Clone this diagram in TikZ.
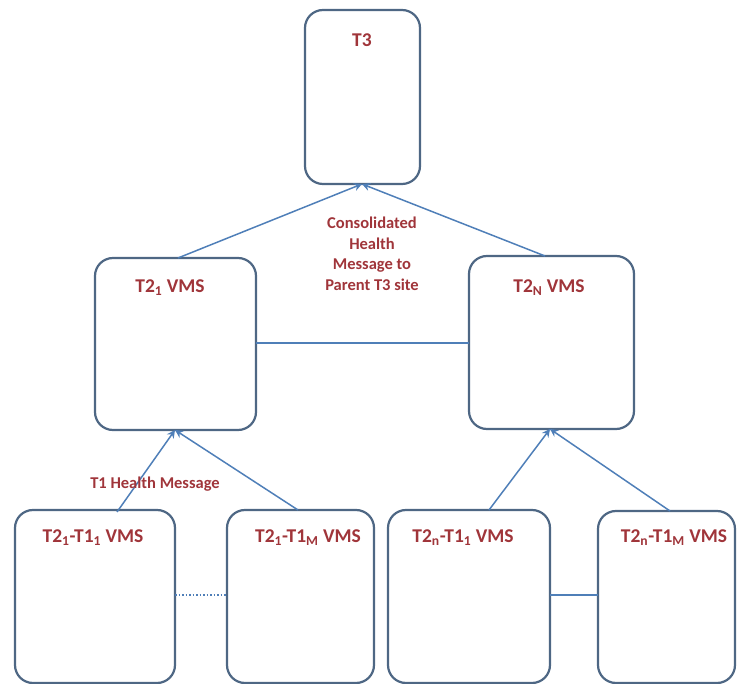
\documentclass[tikz,border=0pt]{standalone}
\usepackage{fontspec}
\setmainfont{Carlito}
\usetikzlibrary{arrows.meta}
\definecolor{boxline}{HTML}{4E6784}
\definecolor{conn}{HTML}{4F7FB8}
\definecolor{txt}{HTML}{A0353A}
\tikzset{
  vbox/.style={draw=boxline, line width=2.2pt, rounded corners=18pt, fill=white},
  lbl/.style={text=txt, font=\bfseries\fontsize{19.5}{22}\selectfont, inner sep=1pt},
  mlbl/.style={text=txt, font=\bfseries\fontsize{16.5}{20.5}\selectfont, inner sep=1pt},
  conn/.style={draw=conn, line width=1.5pt},
  arr/.style={conn, -{Stealth[length=8pt,width=8pt]}}
}
\begin{document}
\begin{tikzpicture}[x=1pt,y=-1pt]
\useasboundingbox (0,0) rectangle (737,684);
% boxes
\draw[vbox] (305,10) rectangle (420,184);
\coordinate (t3b) at (362,184);
\draw[vbox] (95,258) rectangle (256,430);
\draw[vbox] (469,256) rectangle (634,429);
\draw[vbox] (15,510) rectangle (175,683);
\draw[vbox] (227,510) rectangle (374,683);
\draw[vbox] (388,510) rectangle (550,683);
\draw[vbox] (598,511) rectangle (735,683);
% named anchors
\coordinate (a1t) at (178,258);
\coordinate (aNt) at (545,256);
\coordinate (a1b) at (175,430);
\coordinate (aNb) at (550,429);
\coordinate (b1t) at (117,512);
\coordinate (b2t) at (298,510);
\coordinate (b3t) at (489,510);
\coordinate (b4t) at (670,511);
\coordinate (l1) at (256,343);
\coordinate (l2) at (469,343);
\coordinate (d1) at (175,595);
\coordinate (d2) at (227,595);
\coordinate (s1) at (550,595);
\coordinate (s2) at (598,595);
% connectors
\draw[arr] (a1t) -- (t3b);
\draw[arr] (aNt) -- (t3b);
\draw[arr] (b1t) -- (a1b);
\draw[arr] (b2t) -- (a1b);
\draw[arr] (b3t) -- (aNb);
\draw[arr] (b4t) -- (aNb);
\draw[conn] (l1) -- (l2);
\draw[conn, dotted] (d1) -- (d2);
\draw[conn] (s1) -- (s2);
% texts
\node[lbl] (nt3) at (362,40) {T3};
\node[lbl] (nt21) at (170,288) {T2\textsubscript{1} VMS};
\node[lbl] (nt2n) at (549,288) {T2\textsubscript{N} VMS};
\node[mlbl, align=center] (ncons) at (372,254) {Consolidated\\Health\\Message to\\Parent T3 site};
\node[mlbl] (nt1h) at (155,484) {T1 Health Message};
\node[lbl] (nb1) at (93,538) {T2\textsubscript{1}-T1\textsubscript{1} VMS};
\node[lbl] (nb2) at (308,538) {T2\textsubscript{1}-T1\textsubscript{M} VMS};
\node[lbl] (nb3) at (463,538) {T2\textsubscript{n}-T1\textsubscript{1} VMS};
\node[lbl] (nb4) at (674,538) {T2\textsubscript{n}-T1\textsubscript{M} VMS};
\end{tikzpicture}
\end{document}
